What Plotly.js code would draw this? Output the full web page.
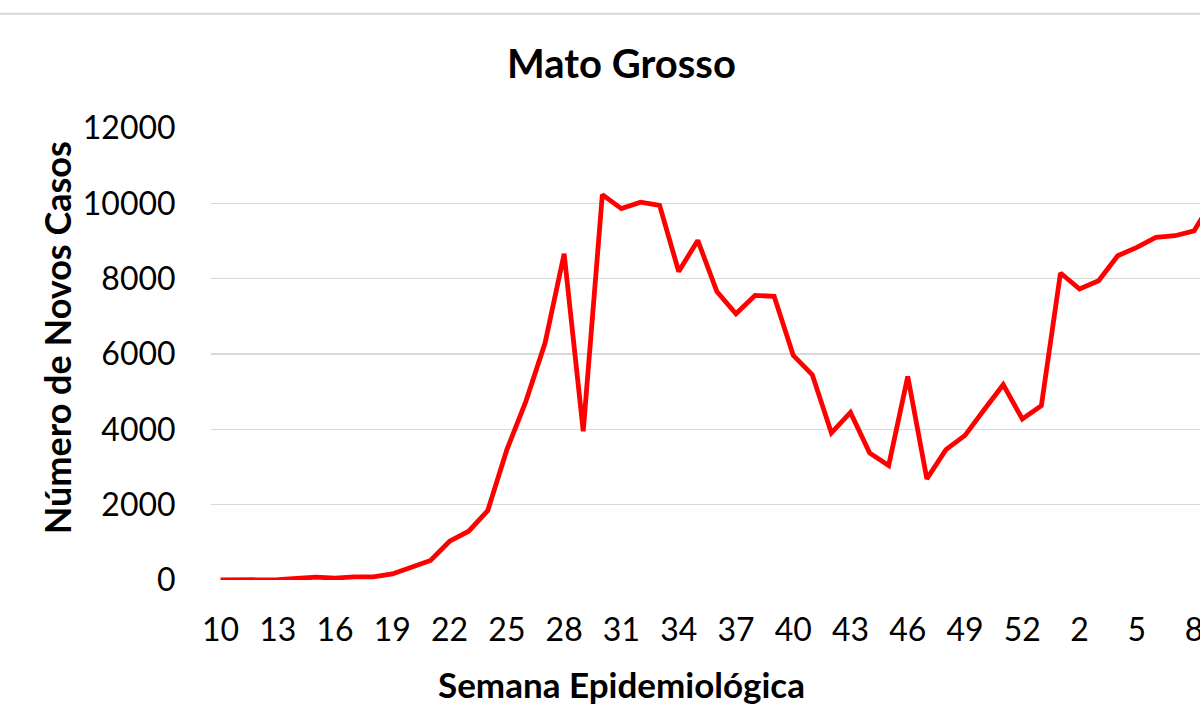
<!DOCTYPE html>
<html>
<head>
<meta charset="utf-8">
<script src="https://cdn.plot.ly/plotly-3.0.1.min.js"></script>
<style>
html,body{margin:0;padding:0;overflow:hidden;background:#fff;width:1200px;height:706px;}
#chart{width:1300px;height:706px;}
</style>
</head>
<body>
<div id="chart"></div>
<script>
// Semana epidemiológica (2020: 10–53, 2021: 1–9)
const semanas = [10,11,12,13,14,15,16,17,18,19,20,21,22,23,24,25,26,27,28,29,30,31,32,33,34,35,36,37,38,39,40,41,42,43,44,45,46,47,48,49,50,51,52,53,1,2,3,4,5,6,7,8,9];
// Número de novos casos por semana
const novosCasos = [0,0,2,10,40,75,50,85,85,160,340,520,1030,1295,1845,3460,4750,6290,8660,3950,10230,9860,10030,9945,8190,9015,7660,7070,7555,7530,5965,5450,3905,4450,3375,3040,5405,2685,3460,3840,4520,5185,4275,4630,8150,7725,7945,8610,8830,9095,9140,9270,10100];
const yTicks = [0,2000,4000,6000,8000,10000,12000];
const titulo = 'Mato Grosso';
const tituloX = 'Semana Epidemiológica';
const tituloY = 'Número de Novos Casos';

const idx = semanas.map((_, i) => i);
const tickIdx = idx.filter(i => i % 3 === 0);
const tickTxt = tickIdx.map(i => String(semanas[i]));

const FONT = 'Lato, "Open Sans", sans-serif';

const trace = {
  x: idx, y: novosCasos, type: 'scatter', mode: 'lines',
  line: {color: '#FF0000', width: 4.8},
  hoverinfo: 'skip'
};

const layout = {
  width: 1300, height: 706,
  margin: {l: 210.5, r: 20, t: 128, b: 125.5, pad: 0},
  paper_bgcolor: '#fff', plot_bgcolor: '#fff',
  showlegend: false,
  font: {family: FONT, color: '#000'},
  xaxis: {
    range: [-0.5, 55.5],
    tickmode: 'array', tickvals: tickIdx, ticktext: tickTxt,
    tickfont: {family: FONT, size: 32, color: '#000'},
    ticks: 'outside', ticklen: 22, tickcolor: 'rgba(0,0,0,0)',
    showgrid: false, zeroline: false, showline: false,
    fixedrange: true
  },
  yaxis: {
    range: [0, 12000],
    tickmode: 'array', tickvals: yTicks, ticktext: yTicks.map(String),
    tickfont: {family: FONT, size: 32, color: '#000'},
    ticks: 'outside', ticklen: 28, tickcolor: 'rgba(0,0,0,0)',
    showgrid: true, gridcolor: '#d9d9d9', gridwidth: 1.5,
    zeroline: false, showline: false,
    fixedrange: true
  },
  shapes: [{
    type: 'line', xref: 'paper', yref: 'paper',
    x0: -1, x1: 2, y0: 1.2530, y1: 1.2530,
    line: {color: '#d9d9d9', width: 2}
  }],
  annotations: [
    {text: '<b>' + titulo + '</b>', xref: 'paper', yref: 'paper',
     x: (621 - 210.5) / 1069.5, y: (580.5 - 63) / 452.5,
     xanchor: 'center', yanchor: 'middle', showarrow: false,
     font: {family: FONT, size: 40, color: '#000'}},
    {text: '<b>' + tituloX + '</b>', xref: 'paper', yref: 'paper',
     x: (621 - 210.5) / 1069.5, y: (580.5 - 685) / 452.5,
     xanchor: 'center', yanchor: 'middle', showarrow: false,
     font: {family: FONT, size: 35, color: '#000'}},
    {text: '<b>' + tituloY + '</b>', xref: 'paper', yref: 'paper',
     x: (56 - 210.5) / 1069.5, y: (580.5 - 338) / 452.5,
     xanchor: 'center', yanchor: 'middle', showarrow: false, textangle: -90,
     font: {family: FONT, size: 36, color: '#000'}}
  ]
};

Plotly.newPlot('chart', [trace], layout, {displayModeBar: false, staticPlot: true});
</script>
</body>
</html>
